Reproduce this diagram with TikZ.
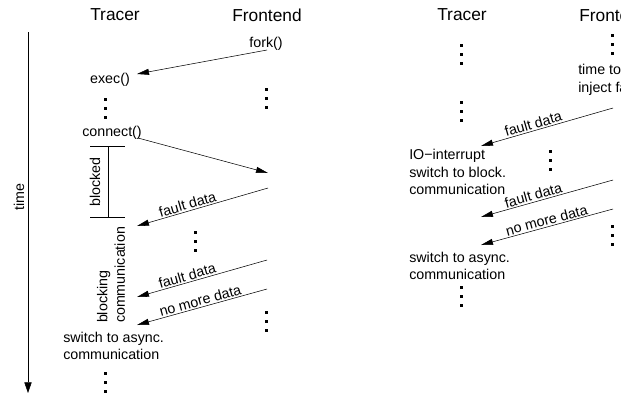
\documentclass[tikz,border=0pt]{standalone}
\usepackage{fontspec}
\setmainfont{Liberation Sans}
\usetikzlibrary{arrows.meta}

\tikzset{
  msg/.style={-{Triangle[length=9pt,width=4.5pt]}},
  txt/.style={font=\fontsize{10.7}{13.2}\selectfont,inner sep=0pt},
  head/.style={font=\fontsize{13}{15}\selectfont,inner sep=0pt},
  lbl/.style={txt,sloped,above,inner sep=1pt},
  vdots/.pic={\foreach \k in {-9,0,9} \fill (-1.5,\k-1.5) rectangle ++(3,3);}
}

\begin{document}
\begin{tikzpicture}[x=0.75pt,y=-0.75pt]

\useasboundingbox (0,0) rectangle (623,394) ;
\clip (0,0) rectangle (620,394) ;

% time axis
\coordinate (t0) at (28,32) ;
\coordinate (t1) at (28,393) ;
\draw[-{Triangle[length=8pt,width=5.5pt]}] (t0) -- (t1) ;
\node[txt,rotate=90] (time) at (19,197) {time} ;

% ---- startup, blocking ----
\node[head] (trL) at (115,15) {Tracer} ;
\node[head] (feL) at (267,15) {Frontend} ;

\node[txt] (fork) at (266,44) {fork()} ;
\node[txt] (exec) at (110,80) {exec()} ;
\coordinate (fk) at (267,50) ;
\coordinate (ex) at (137,74) ;
\draw[msg] (fk) -- (ex) ;

\pic (dl1) at (105,108) {vdots} ;
\pic (dr1) at (266,98) {vdots} ;

\node[txt] (connect) at (112,133) {connect()} ;
\coordinate (cn) at (138,138) ;
\coordinate (fe1) at (268,173) ;
\draw[msg] (cn) -- (fe1) ;

% blocked interval
\coordinate (b0) at (108,146) ;
\coordinate (b1) at (108,217) ;
\draw (90,146) -- (125,146) ;
\draw (90,217) -- (125,217) ;
\draw (b0) -- (b1) ;
\node[txt,rotate=90] (blocked) at (95,182) {blocked} ;

\coordinate (fe2) at (268,188) ;
\coordinate (tr2) at (137,226) ;
\draw[msg] (fe2) -- node[lbl,pos=0.6] (fd1) {fault data} (tr2) ;

\pic (dm1) at (195,241) {vdots} ;

\node[txt,rotate=90,align=left] (blockcomm) at (111,275) {blocking\\communication} ;

\coordinate (fe3) at (267,260) ;
\coordinate (tr3) at (137,297) ;
\draw[msg] (fe3) -- node[lbl,pos=0.6] (fd2) {fault data} (tr3) ;

\coordinate (fe4) at (267,289) ;
\coordinate (tr4) at (137,325) ;
\draw[msg] (fe4) -- node[lbl,pos=0.5] (nmd1) {no more data} (tr4) ;

\pic (dr2) at (266,321) {vdots} ;

\node[txt,anchor=west,align=left] (asyncL) at (63,346) {switch to async.\\communication} ;
\pic (dl2) at (105,382) {vdots} ;

% ---- interrupt driven ----
\node[head] (trR) at (462,15) {Tracer} ;
\node[head,anchor=west] (feR) at (579,15) {Frontend} ;

\pic (dl3) at (461,54) {vdots} ;
\pic (dr3) at (612,44) {vdots} ;
\node[txt,anchor=west,align=left] (inject) at (578,80) {time to\\inject fault} ;
\pic (dl4) at (461,111) {vdots} ;

\coordinate (fe5) at (613,108) ;
\coordinate (tr5) at (481,146) ;
\draw[msg] (fe5) -- node[lbl,pos=0.59] (fd3) {fault data} (tr5) ;

\node[txt,anchor=west,align=left] (iointr) at (409,172) {IO−interrupt\\switch to block.\\communication} ;
\pic (dm2) at (550,160) {vdots} ;

\coordinate (fe6) at (613,180) ;
\coordinate (tr6) at (481,217) ;
\draw[msg] (fe6) -- node[lbl,pos=0.59] (fd4) {fault data} (tr6) ;

\coordinate (fe7) at (613,209) ;
\coordinate (tr7) at (481,245) ;
\draw[msg] (fe7) -- node[lbl,pos=0.49] (nmd2) {no more data} (tr7) ;

\pic (dr4) at (612,235) {vdots} ;

\node[txt,anchor=west,align=left] (asyncR) at (409,266) {switch to async.\\communication} ;
\pic (dl5) at (461,296) {vdots} ;

\end{tikzpicture}
\end{document}
